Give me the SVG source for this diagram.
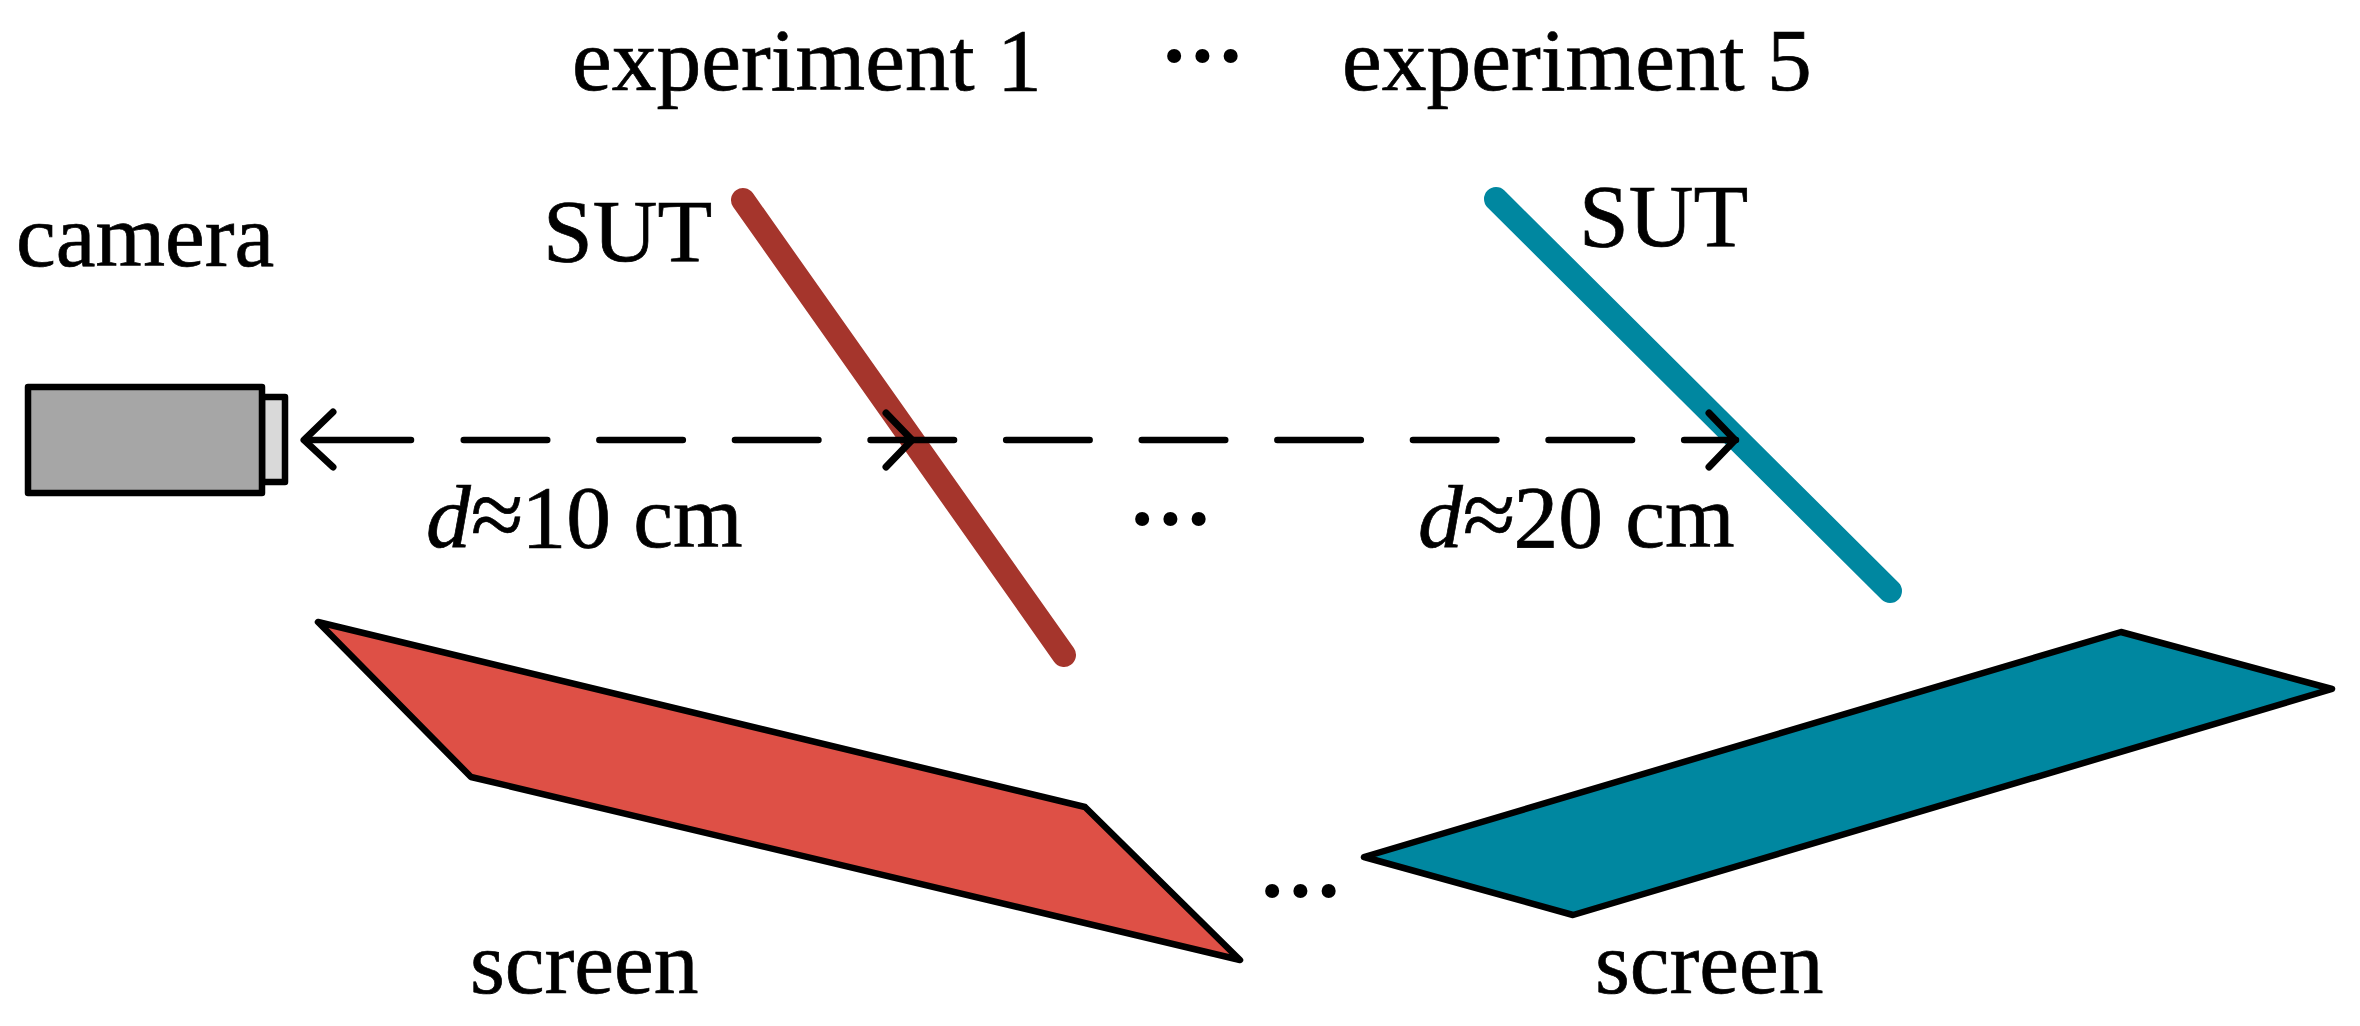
<svg xmlns="http://www.w3.org/2000/svg" width="2360" height="1026" viewBox="0 0 2360 1026">
<style>
text{font-family:"Liberation Serif","Times New Roman",serif;font-size:89.5px;fill:#000;stroke:#000;stroke-width:.7}
text.dots{font-size:85px;letter-spacing:0;stroke-width:4}
.ol{stroke:#000;stroke-width:6.5;stroke-linejoin:round}
.sut{fill:none;stroke-width:24;stroke-linecap:round}
.dash{fill:none;stroke:#000;stroke-width:6.5;stroke-linecap:round;stroke-linejoin:round}
.head{fill:none;stroke:#000;stroke-width:7;stroke-linecap:round;stroke-linejoin:round}
</style>
<rect width="2360" height="1026" fill="#fff"/>
<g id="title1"><text x="572" y="90">experiment 1</text></g>
<g id="titledots"><text class="dots" x="1160" y="84">···</text></g>
<g id="title5"><text x="1342" y="90">experiment 5</text></g>
<g id="camera-label"><text x="16" y="266">camera</text></g>
<g id="camera">
<rect class="ol" x="262" y="397" width="23" height="85" fill="#d9d9d9"/>
<rect class="ol" x="28" y="387" width="234" height="106" fill="#a6a6a6"/>
</g>
<g id="sut1"><line class="sut" x1="743" y1="200" x2="1064" y2="655" stroke="#a5352c"/><text x="543" y="261">SUT</text></g>
<g id="sut5"><line class="sut" x1="1496" y1="199" x2="1890" y2="591" stroke="#0087a0"/><text x="1579" y="246">SUT</text></g>
<g id="connectors">
<line class="dash" x1="305" y1="440" x2="411" y2="440"/>
<line class="dash" x1="463.75" y1="440" x2="1736" y2="440" stroke-dasharray="83.5 52.1"/>
<polyline class="head" points="333,412 304,440 333,467"/>
<polyline class="head" points="886,413 912,440 886,467"/>
<polyline class="head" points="1709,413 1735,440 1709,467"/>
</g>
<g id="label-d10"><text x="426" y="547"><tspan font-style="italic">d</tspan><tspan font-size="96">≈</tspan><tspan dx="-2">10 cm</tspan></text></g>
<g id="midots"><text class="dots" x="1128" y="547">···</text></g>
<g id="label-d20"><text x="1418" y="547"><tspan font-style="italic">d</tspan><tspan font-size="96">≈</tspan><tspan dx="-2">20 cm</tspan></text></g>
<g id="screen1"><polygon class="ol" points="318,622 1085,807 1240,960 471,777" fill="#de5046"/><text x="470" y="993">screen</text></g>
<g id="screendots"><text class="dots" x="1258" y="919">···</text></g>
<g id="screen5"><polygon class="ol" points="1364,857 2121,632 2332,689 1573,915" fill="#0087a0"/><text x="1595" y="993">screen</text></g>
</svg>
